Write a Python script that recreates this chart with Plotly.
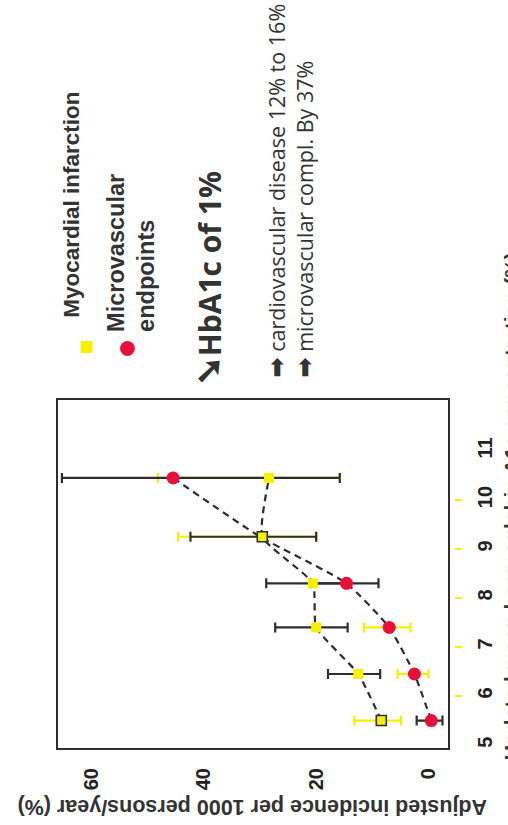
import plotly.graph_objects as go

# ---------------- data ----------------
hba1c = [5.5, 6.45, 7.4, 8.3, 9.25, 10.45]

mi = [8.4, 12.5, 20.0, 20.6, 29.6, 28.4]
mi_lo = [4.9, 8.6, 14.4, 14.5, 20.0, 15.8]
mi_hi = [13.2, 17.9, 27.3, 28.9, 42.4, 65.3]

micro = [-0.5, 2.5, 7.0, 14.6, 30.0, 45.5]
micro_lo = [-2.5, 0.0, 3.2, 8.9, 20.0, 15.8]
micro_hi = [2.1, 5.5, 11.5, 21.0, 44.6, 48.2]

x_ticks = [0, 20, 40, 60]
y_ticks = [5, 6, 7, 8, 9, 10, 11]
y_minor_ticks = [6, 7, 8, 9, 10]

# ---------------- style ----------------
YELLOW = "#f7f000"
RED = "#e8103a"
DARK = "#2e2e2e"
mi_bar_col = ["y", "k", "k", "k", "k", "k"]
micro_bar_col = ["k", "y", "y", "k", "y", "y"]
mi_outline = [1.6, 0, 0, 0, 1.6, 0]
micro_size = [13, 13, 13, 13, 0, 13]

W, H = 508, 825
ML, MR, MT, MB = 58, 48, 400, 77
PW = W - ML - MR
PH = H - MT - MB
FRAME_R = 454


def px(x):
    return (x - ML) / PW


def py(y):
    return (H - MB - y) / PH


fig = go.Figure()

# dashed connecting lines
for xs in (mi, micro):
    fig.add_trace(go.Scatter(x=xs, y=hba1c, mode="lines",
                             line=dict(color=DARK, width=2.2, dash="7px,5px",
                                       shape="spline", smoothing=0.5),
                             showlegend=False, hoverinfo="skip"))

# error bars, yellow first then black
for col_key, col in [("y", YELLOW), ("k", DARK)]:
    for vals, lo, hi, cols in [(mi, mi_lo, mi_hi, mi_bar_col),
                                (micro, micro_lo, micro_hi, micro_bar_col)]:
        idx = [i for i, c in enumerate(cols) if c == col_key]
        if not idx:
            continue
        fig.add_trace(go.Scatter(
            x=[vals[i] for i in idx], y=[hba1c[i] for i in idx],
            mode="markers", marker=dict(size=1, opacity=0),
            error_x=dict(type="data", symmetric=False,
                         array=[hi[i] - vals[i] for i in idx],
                         arrayminus=[vals[i] - lo[i] for i in idx],
                         color=col, thickness=2.2, width=5),
            showlegend=False, hoverinfo="skip"))

# markers
fig.add_trace(go.Scatter(x=micro, y=hba1c, mode="markers", opacity=1,
                         marker=dict(color=RED, size=micro_size, symbol="circle",
                                     opacity=1, line=dict(width=0)),
                         showlegend=False))
fig.add_trace(go.Scatter(x=mi, y=hba1c, mode="markers", opacity=1,
                         marker=dict(color=YELLOW, size=10, symbol="square",
                                     opacity=1,
                                     line=dict(color=DARK, width=mi_outline)),
                         showlegend=False))

# invisible trace to hold the yellow offset ticks axis
fig.add_trace(go.Scatter(x=[None], y=[None], yaxis="y2", showlegend=False,
                         hoverinfo="skip"))

tickfont = dict(family="Liberation Sans", size=20, color="#222", weight="bold")

fig.update_layout(
    width=W, height=H,
    margin=dict(l=ML, r=MR, t=MT, b=MB),
    paper_bgcolor="white", plot_bgcolor="white",
    xaxis=dict(domain=[0, (FRAME_R - ML) / PW], range=[66, -3.5],
               tickvals=x_ticks, tickangle=-90, tickfont=tickfont,
               ticks="", showline=True, mirror=True, linecolor=DARK,
               linewidth=2, showgrid=False, zeroline=False,
               ticklabelstandoff=10),
    yaxis=dict(range=[4.94, 12.04], side="right", tickvals=y_ticks,
               tickangle=-90, tickfont=tickfont, ticks="", showline=True,
               mirror=True, linecolor=DARK, linewidth=2, showgrid=False,
               zeroline=False, ticklabelstandoff=18),
    yaxis2=dict(range=[4.94, 12.04], overlaying="y", anchor="free",
                position=1, side="right", tickvals=y_minor_ticks,
                ticks="outside", ticklen=7, tickwidth=2, tickcolor=YELLOW,
                showticklabels=False, showline=False, showgrid=False,
                zeroline=False),
)

bold = dict(family="Liberation Sans", color="#333", weight="bold")
ann = []
ann.append(dict(text="Myocardial infarction", x=px(71), y=py(320),
                xanchor="center", yanchor="bottom", textangle=-90,
                font=dict(size=22.5, **bold)))
ann.append(dict(text="Microvascular<br>endpoints", x=px(132), y=py(334),
                xanchor="center", yanchor="bottom", textangle=-90, align="left",
                font=dict(size=23.5, **bold)))
ann.append(dict(text="<span style='font-size:36px'>➘</span>HbA1c of 1%",
                x=px(210), y=py(388),
                xanchor="center", yanchor="bottom", textangle=-90,
                font=dict(size=30, family="Open Sans", color="#333", weight="bold")))
arrow = "<span style='font-family:DejaVu Sans;font-weight:bold;font-size:24px'>➡</span>"
ann.append(dict(text=arrow + " cardiovascular disease 12% to 16%<br>"
                + arrow + " microvascular compl. By 37%",
                x=px(294), y=py(379), xanchor="center", yanchor="bottom",
                textangle=-90, align="left",
                font=dict(size=21.5, family="Open Sans", color="#333")))
ann.append(dict(text="Adjusted incidence per 1000 persons/year (%)",
                x=px(255), y=py(807), xanchor="center", yanchor="middle",
                textangle=180, font=dict(size=21.5, **bold)))
ann.append(dict(text="Updated mean haemoglobin A1c concentration (%)",
                x=px(518), y=py(250), xanchor="center", yanchor="top",
                textangle=-90, font=dict(size=21, **bold)))
for a in ann:
    a.update(xref="paper", yref="paper", showarrow=False)
fig.update_layout(annotations=ann)

# legend symbols
fig.add_shape(type="rect", xref="paper", yref="paper",
              x0=px(81), x1=px(93), y0=py(353), y1=py(341),
              fillcolor=YELLOW, line=dict(width=0))
fig.add_shape(type="circle", xref="paper", yref="paper",
              x0=px(121), x1=px(136), y0=py(356), y1=py(341),
              fillcolor=RED, line=dict(width=0))

fig.write_html("out.html")
